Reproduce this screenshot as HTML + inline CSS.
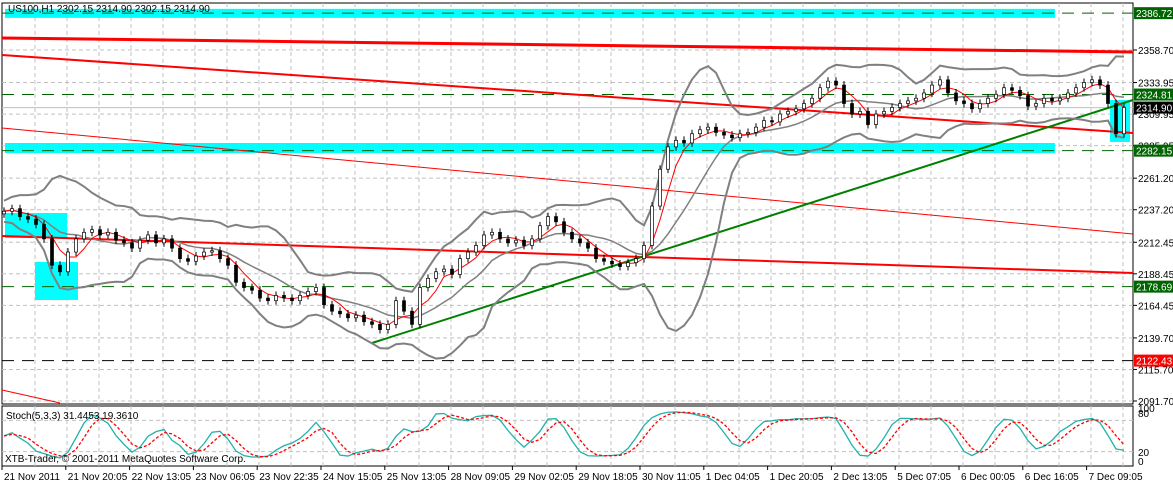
<!DOCTYPE html>
<html><head><meta charset="utf-8"><style>
html,body{margin:0;padding:0;background:#fff;}
svg{display:block;font-family:"Liberation Sans",sans-serif;}
</style></head><body>
<svg id="c" width="1173" height="484" xmlns="http://www.w3.org/2000/svg"></svg>
<script>
const closes=[2236,2238,2232,2230,2226,2215,2195,2190,2205,2215,2220,2222,2218,2220,2214,2212,2208,2214,2218,2212,2215,2208,2200,2198,2202,2205,2206,2200,2195,2182,2178,2176,2170,2168,2172,2170,2168,2172,2175,2178,2165,2160,2158,2155,2157,2152,2150,2146,2150,2168,2160,2150,2178,2185,2190,2192,2188,2200,2205,2210,2218,2220,2215,2212,2214,2210,2215,2225,2232,2228,2220,2215,2212,2208,2200,2198,2196,2194,2197,2200,2210,2240,2268,2285,2290,2288,2295,2298,2300,2296,2294,2292,2295,2296,2300,2305,2304,2310,2312,2314,2318,2322,2330,2335,2332,2318,2310,2312,2302,2310,2312,2315,2318,2320,2322,2326,2332,2336,2326,2320,2318,2314,2318,2322,2325,2330,2328,2324,2316,2318,2322,2320,2322,2326,2330,2334,2336,2332,2318,2295,2315];
const priceTicks=["2358.70","2333.95","2309.95","2285.95","2261.20","2237.20","2212.45","2188.45","2164.45","2139.70","2115.70","2091.70"];
const timeLabels=["21 Nov 2011","21 Nov 20:05","22 Nov 13:05","23 Nov 06:05","23 Nov 22:35","24 Nov 15:05","25 Nov 13:05","28 Nov 09:05","29 Nov 02:05","29 Nov 18:05","30 Nov 11:05","1 Dec 04:05","1 Dec 20:05","2 Dec 13:05","5 Dec 07:05","6 Dec 00:05","6 Dec 16:05","7 Dec 09:05"];
const levels=[{v:2386.72,c:"#006400",lbl:"2386.72"},{v:2324.81,c:"#006400",lbl:"2324.81"},{v:2282.15,c:"#006400",lbl:"2282.15"},{v:2178.69,c:"#006400",lbl:"2178.69"},{v:2122.43,c:"#ff0000",lbl:"2122.43"}];
const lastPrice=2314.90;

const S=document.getElementById('c');
const NS="http://www.w3.org/2000/svg";
function el(t,a,p){const e=document.createElementNS(NS,t);for(const k in a)e.setAttribute(k,a[k]);(p||S).appendChild(e);return e;}
const L=2,R=1133,T=3,B=404;
const y=v=>50+(2358.7-v)*1.3146;
const x=i=>4+i*8;
const SY0=406,SY1=466;
const sy=v=>SY1-4-(v/100)*(SY1-SY0-8);

// frames
let f=el('rect',{x:L,y:T,width:R-L,height:B-T,fill:'#fff',stroke:'#000','stroke-width':1});

f=el('rect',{x:L,y:SY0,width:R-L,height:SY1-SY0,fill:'#fff',stroke:'#000','stroke-width':1});


// grid
for(let gx=35;gx<R;gx+=32){el('line',{x1:gx,y1:T,x2:gx,y2:B,stroke:'#c0c0c0','stroke-dasharray':'4,3'});el('line',{x1:gx,y1:SY0,x2:gx,y2:SY1,stroke:'#c0c0c0','stroke-dasharray':'4,3'});}
priceTicks.forEach(t=>{el('line',{x1:L,y1:y(+t),x2:R,y2:y(+t),stroke:'#c0c0c0','stroke-dasharray':'4,3'});});

// cyan boxes
[[5,y(2390),1050,9],[5,143,1050,10],[5,213,62,25],[35,262,43,38],[1110,100,20,42]].forEach((b,i)=>{
 const r=el('rect',{x:b[0],y:b[1],width:b[2],height:b[3],fill:'#00ffff'});
 });

// levels
levels.forEach(l=>{const ln=el('line',{x1:L,y1:y(l.v),x2:R,y2:y(l.v),stroke:l.c==='#ff0000'?'#000':l.c,'stroke-dasharray':'12,8','stroke-width':1});
 });
el('line',{x1:L,y1:y(lastPrice),x2:R,y2:y(lastPrice),stroke:'#c0c0c0'});

// trend lines
[[2,38,1133,52,3],[2,55,1133,133,2],[2,128,1133,234,1],[2,236,1133,273,2],[2,390,60,403,1]].forEach(a=>{
 const ln=el('line',{x1:a[0],y1:a[1],x2:a[2],y2:a[3],stroke:'#ff0000','stroke-width':a[4]});
 });
let g=el('line',{x1:372,y1:343,x2:1133,y2:100,stroke:'#008000','stroke-width':2});


// bollinger + ma
const N=closes.length,ma=[],up=[],dn=[];
for(let i=0;i<N;i++){const s=closes.slice(Math.max(0,i-9),i+1);const m=s.reduce((a,b)=>a+b)/s.length;const sd=Math.sqrt(s.reduce((a,b)=>a+(b-m)*(b-m),0)/s.length)+4;ma.push(m);up.push(m+2*sd);dn.push(m-2*sd);}
const pl=(arr,st,w,nm)=>{const p=el('polyline',{points:arr.map((v,i)=>x(i)+','+y(v)).join(' '),fill:'none',stroke:st,'stroke-width':w});};
pl(up,'#808080',2,'bollinger-upper');pl(dn,'#808080',2,'bollinger-lower');pl(ma,'#808080',1.5,'bollinger-middle');
const ma5=closes.map((c,i)=>{const s=closes.slice(Math.max(0,i-3),i+1);return s.reduce((a,b)=>a+b)/s.length;});
pl(ma5,'#ff0000',1,'moving-average');

// candles
for(let i=0;i<N;i++){const o=i?closes[i-1]:closes[0]-2,c=closes[i];const hi=Math.max(o,c)+3,lo=Math.min(o,c)-3;
 const cg=el('g',{});
 
 el('line',{x1:x(i),y1:y(hi),x2:x(i),y2:y(lo),stroke:'#000'},cg);
 el('rect',{x:x(i)-1.5,y:y(Math.max(o,c)),width:3,height:Math.max(1,Math.abs(y(o)-y(c))),fill:c>=o?'#fff':'#000',stroke:'#000','stroke-width':0.7},cg);}

// stochastic
const K=[],D=[];
for(let i=0;i<N;i++){const s=closes.slice(Math.max(0,i-4),i+1);const h=Math.max(...s)+3,l=Math.min(...s)-3;K.push((closes[i]-l)/(h-l)*100);}
const Ks=K.map((v,i)=>{const s=K.slice(Math.max(0,i-2),i+1);return s.reduce((a,b)=>a+b)/s.length;});
Ks.forEach((v,i)=>{const s=Ks.slice(Math.max(0,i-2),i+1);D.push(s.reduce((a,b)=>a+b)/s.length);});
[80,20].forEach(v=>el('line',{x1:L,y1:sy(v),x2:R,y2:sy(v),stroke:'#c0c0c0','stroke-dasharray':'4,3'}));
let p=el('polyline',{points:Ks.map((v,i)=>x(i)+','+sy(v)).join(' '),fill:'none',stroke:'#20b2aa','stroke-width':1.3});

p=el('polyline',{points:D.map((v,i)=>x(i)+','+sy(v)).join(' '),fill:'none',stroke:'#ff0000','stroke-width':1.3,'stroke-dasharray':'3,2'});


// text
function tx(s,X,Y,a,nm){const t=el('text',Object.assign({x:X,y:Y,'font-size':10,fill:'#000'},a||{}));t.textContent=s;return t;}
tx('US100,H1  2302.15 2314.90 2302.15 2314.90',8,12,{'font-size':10},'chart-title');
tx('Stoch(5,3,3) 31.4453 19.3610',6,419,{},'stoch-label');
tx('XTB-Trader, © 2001-2011 MetaQuotes Software Corp.',5,462,{},'copyright');
priceTicks.forEach(t=>{tx(t,1138,y(+t)+4,{},'price-tick');el('line',{x1:R,y1:y(+t),x2:R+4,y2:y(+t),stroke:'#000'});});
levels.forEach(l=>{el('rect',{x:1134,y:y(l.v)-6,width:39,height:12,fill:l.c});tx(l.lbl,1136,y(l.v)+4,{fill:'#fff'},'level-label');});
el('rect',{x:1134,y:y(lastPrice)-6,width:39,height:12,fill:'#000'});tx('2314.90',1136,y(lastPrice)+4,{fill:'#fff'},'last-price-label');
[['100',408],['80',413],['20',452],['0',461]].forEach(a=>tx(a[0],1138,a[1]+4,{},'stoch-tick'));
timeLabels.forEach((t,i)=>{const X=2+i*63.8;tx(t,X+2,480,{},'time-label');el('line',{x1:X,y1:SY1,x2:X,y2:SY1+4,stroke:'#000'});});
</script>
</body></html>
